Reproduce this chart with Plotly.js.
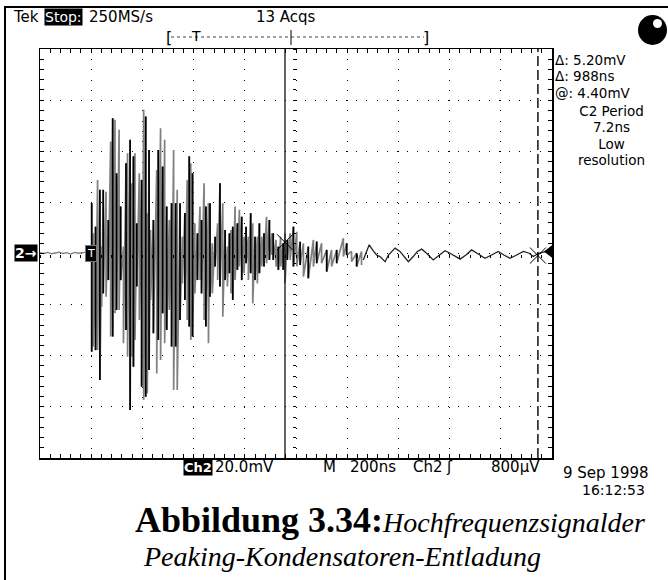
<!DOCTYPE html>
<html><head><meta charset="utf-8">
<script src="https://cdn.plot.ly/plotly-3.0.1.min.js"></script>
<style>html,body{margin:0;padding:0;background:#fff;}#chart{width:668px;height:580px;}</style>
</head><body><div id="chart"></div>
<script>
// ---- data (time in ns, voltage in mV) ----
const preT = [-200,-185,-170,-155,-140,-125,-110,-95,-80,-65,-50,-35,-20,-8,0];
const preV = [0.3,0.0,0.4,-0.1,0.2,0.5,0.0,0.3,-0.2,0.4,0.1,0.3,0.5,0.0,0.2];

const burstT = [2,8,17,25,34,41,47,58,67,76,84,93,99,109,115,126,136,142,152,158,165,171,178,188,197,205,213,219,226,232,243,256,262,271,279,287,295,305,314,322,330,336,347,356,366,375,383,389,396,405,415,425,431,441,448,458,464,473,484,494,503,514,523,532,540,546,553,562,571,579,588,597,605,614,623,631,640,649,657,666,675,685,696,705,711,722,731,740,750,757,766,777,790,803,816,829,848,868,881,900,920,939,959,985,998,1017,1037,1056];
const burstHi = [19.7,7.9,10.5,28.8,24.9,2.7,24.9,24.2,13.1,43.8,52.9,52.3,31.4,48.4,18.4,2.7,35.3,39.2,44.5,27.5,38.0,39.2,11.8,31.4,28.8,56.2,53.6,15.7,40.5,9.2,13.1,32.7,40.5,49.0,34.0,44.5,18.4,13.1,19.7,40.5,19.7,24.9,19.7,6.6,15.8,28.8,38.0,35.3,31.4,11.8,7.9,18.4,13.1,27.5,18.4,19.7,19.7,4.0,6.6,11.8,27.5,19.7,9.2,2.7,7.9,9.2,10.5,18.4,11.8,17.1,14.4,6.6,10.5,6.6,15.8,11.8,6.6,6.6,11.8,6.6,7.9,14.4,13.1,7.9,7.9,5.3,2.7,6.6,4.0,7.9,5.3,7.9,10.5,8.5,4.6,4.0,2.7,5.3,4.7,4.0,1.4,1.4,1.4,6.0,4.0,0.8,0.1,0.8];
const burstLo = [-38.4,-36.4,-37.8,-37.8,-49.5,-20.8,-15.6,-16.9,-10.4,-32.5,-32.5,-23.4,-22.1,-22.1,-10.4,-35.1,-29.9,-40.4,-61.2,-40.4,-44.3,-33.8,-12.9,-26.0,-52.1,-57.3,-56.0,-54.7,-45.6,-18.2,-31.2,-46.9,-33.8,-41.7,-23.4,-35.1,-29.9,-22.1,-36.4,-53.4,-36.4,-53.4,-26.0,-11.7,-18.2,-26.0,-28.6,-33.8,-32.5,-15.6,-10.4,-10.4,-15.6,-26.0,-28.6,-35.1,-16.9,-15.6,-5.1,-10.4,-12.9,-24.7,-10.4,-12.9,-7.7,-15.6,-18.2,-10.4,-6.4,-5.1,-10.4,-7.7,-3.8,-10.4,-7.7,-19.5,-10.4,-11.7,-7.7,-5.1,-5.1,-3.8,-2.5,-0.5,-2.5,-5.1,-6.4,-5.1,-6.4,-11.7,-2.5,-2.5,-5.1,-5.0,-4.5,-9.0,-9.7,-5.1,-3.8,-3.8,-7.1,-5.1,-3.8,-1.2,-0.6,-3.2,-5.1,-4.5];

const tailT = [1063,1073,1086,1099,1115,1128,1148,1161,1187,1206,1222,1239,1258,1274,1291,1310,1336,1360,1382,1402,1441,1464,1486,1512,1538,1564,1590,1612,1636,1662,1688,1711,1727,1747,1779,1800];
const tailV = [-2.5,0.1,3.4,1.4,-0.6,-1.2,-3.2,-0.6,2.1,0.8,-1.2,-3.2,-1.2,0.8,1.7,0.1,-2.5,-0.6,1.1,0.1,-2.2,-0.6,1.4,-0.2,-1.9,-0.6,0.8,-0.6,-1.9,-0.6,0.8,0.1,-1.2,0.1,0.8,0.3];

const cursorT = [757, 1745];
const cursorV = [4.4, -0.8];
const triggerLevel = 0.8;   // 800 µV
const triggerT = 0;

const readouts = ["Δ: 5.20mV", "Δ: 988ns", "@: 4.40mV"];
const measure = ["C2 Period", "7.2ns", "Low", "resolution"];

// ---- geometry helpers (plot area in pixels) ----
const L = 40, T = 49, W = 512, H = 409;
const fx = x => (x - L) / W;
const fy = y => (T + H - y) / H;

// ---- build traces ----
const zx = [], zy = [];
burstT.forEach((t, i) => { zx.push(t, t); zy.push(burstHi[i], burstLo[i]); });
const bx = [], by = [];
burstT.forEach((t, i) => { if (i % 2 === 0) { bx.push(t, t, null); by.push(burstHi[i], burstLo[i], null); } });

const traces = [
  {x: preT, y: preV, mode: 'lines', line: {color: '#808080', width: 1.3}, hoverinfo: 'skip'},
  {x: zx, y: zy, mode: 'lines', line: {color: '#808080', width: 1.7}, hoverinfo: 'skip'},
  {x: bx, y: by, mode: 'lines', line: {color: '#000', width: 1.7}, hoverinfo: 'skip'},
  {x: tailT, y: tailV, mode: 'lines', line: {color: '#222', width: 1.3}, hoverinfo: 'skip'},
  {x: cursorT, y: cursorV, mode: 'markers', marker: {symbol: 'x-thin-open', size: 16, color: '#000', line: {color: '#000', width: 1}}, hoverinfo: 'skip'},
  {x: [1790], y: [triggerLevel], mode: 'markers', marker: {symbol: 'triangle-left', size: 11, color: '#000'}, hoverinfo: 'skip'}
];

const dotGrid = '1px,9.24px';
const axisCommon = {
  showticklabels: false, zeroline: false, showgrid: true, gridcolor: '#000', gridwidth: 1,
  showline: true, linecolor: '#000', linewidth: 1.5, mirror: 'allticks',
  ticks: 'inside', ticklen: 4, tickcolor: '#000', tickwidth: 1, fixedrange: true
};

const font = 'DejaVu Sans, Verdana, sans-serif';
const ann = [];
function txt(text, x, y, size, opts) {
  ann.push(Object.assign({text: text, xref: 'paper', yref: 'paper', x: fx(x), y: fy(y),
    showarrow: false, xanchor: 'left', yanchor: 'middle', font: {family: font, size: size, color: '#000'}}, opts || {}));
}
const big = s => '<span style="font-size:13.5px">' + s + '</span>';
txt('Tek', 11, 17, 15);
txt('Stop:', 44, 17, 14, {bgcolor: '#000', font: {family: font, size: 14, color: '#fff'}, borderpad: 0});
txt('250MS/s', 87, 17, 15);
txt('13 Acqs', 254, 17, 15);
// readouts: 12.5px line pitch base, 13.5px glyphs
txt(readouts.map(big).join('<br>'), 553, 76, 12.5, {align: 'left'});
txt(measure.map(big).join('<br>'), 611, 135, 12.5, {xanchor: 'center', align: 'center'});
txt('2→', 14, 253, 14, {bgcolor: '#000', font: {family: font, size: 14, color: '#fff', weight: 'bold'}, borderpad: 0});
txt('Ch2', 183, 467, 13, {bgcolor: '#000', font: {family: font, size: 13, color: '#fff', weight: 'bold'}, borderpad: 0});
txt('20.0mV', 213, 467, 15);
txt('M', 321, 467, 15);
txt('200ns', 348, 467, 15);
txt('Ch2', 411, 467, 15);
txt('ʃ', 444, 467, 15);
txt('800µV', 489, 467, 15);
txt('9 Sep 1998', 561, 473, 15);
txt('16:12:53', 580, 490, 14);
ann.push({text: '<span style="font-size:36px"><b>Abbildung 3.34:</b></span><i>Hochfrequenzsignalder</i>',
  xref: 'paper', yref: 'paper', x: fx(133), y: fy(520), showarrow: false, xanchor: 'left', yanchor: 'middle',
  font: {family: 'Liberation Serif, Times New Roman, serif', size: 28, color: '#000'}});
ann.push({text: '<i>Peaking-Kondensatoren-Entladung</i>',
  xref: 'paper', yref: 'paper', x: fx(141), y: fy(556), showarrow: false, xanchor: 'left', yanchor: 'middle',
  font: {family: 'Liberation Serif, Times New Roman, serif', size: 28, color: '#000'}});
// trigger position marker on the waveform
ann.push({text: 'T', xref: 'x', yref: 'y', x: triggerT, y: 0, showarrow: false, bgcolor: '#000',
  bordercolor: '#777', borderwidth: 1, borderpad: 1, font: {family: font, size: 11, color: '#fff'}});
// record-bar marks
txt('[', 164, 38, 16);
txt(']', 421, 38, 16);
txt('T', 189, 36, 14);

const shapes = [
  // outer frame
  {type: 'rect', xref: 'paper', yref: 'paper', x0: fx(5), x1: fx(669), y0: fy(581), y1: fy(7), line: {color: '#000', width: 2}},
  // cursors
  {type: 'line', xref: 'x', yref: 'paper', x0: cursorT[0], x1: cursorT[0], y0: 0, y1: 1, line: {color: '#000', width: 1.2}},
  {type: 'line', xref: 'x', yref: 'paper', x0: cursorT[1], x1: cursorT[1], y0: 0, y1: 1, line: {color: '#000', width: 1.4, dash: '10px,4px'}},
  // record bar
  {type: 'line', xref: 'paper', yref: 'paper', x0: fx(171), x1: fx(424), y0: fy(37), y1: fy(37), line: {color: '#444', width: 1, dash: 'dot'}},
  {type: 'line', xref: 'paper', yref: 'paper', x0: fx(291), x1: fx(291), y0: fy(30), y1: fy(45), line: {color: '#000', width: 1}},
  // status bulb
  {type: 'circle', xref: 'paper', yref: 'paper', x0: fx(638), x1: fx(667), y0: fy(45), y1: fy(15), fillcolor: '#000', line: {color: '#000', width: 0}},
  {type: 'circle', xref: 'paper', yref: 'paper', x0: fx(653), x1: fx(662), y0: fy(28), y1: fy(19), fillcolor: '#fff', line: {color: '#fff', width: 0}}
];

const layout = {
  width: 668, height: 580, margin: {l: L, r: 668 - L - W, t: T, b: 580 - T - H},
  paper_bgcolor: '#fff', plot_bgcolor: '#fff', showlegend: false,
  xaxis: Object.assign({}, axisCommon, {range: [-200, 1800], tick0: -200, dtick: 200, griddash: dotGrid,
    minor: {dtick: 40, ticks: 'inside', ticklen: 3, tickcolor: '#000', showgrid: false}}),
  yaxis: Object.assign({}, axisCommon, {range: [-80, 80], tick0: -80, dtick: 20, griddash: '1px,9.2px',
    minor: {dtick: 4, ticks: 'inside', ticklen: 3, tickcolor: '#000', showgrid: false}}),
  xaxis2: {overlaying: 'x', anchor: 'free', position: 0.5, range: [-200, 1800], tick0: -200, dtick: 40,
    ticks: 'outside', ticklen: 3, tickcolor: '#000', showticklabels: false, showgrid: false, zeroline: false, showline: false, fixedrange: true},
  yaxis2: {overlaying: 'y', anchor: 'free', position: 0.5, range: [-80, 80], tick0: -80, dtick: 4,
    ticks: 'outside', ticklen: 3, tickcolor: '#000', showticklabels: false, showgrid: false, zeroline: false, showline: false, fixedrange: true},
  annotations: ann, shapes: shapes
};
// attach helper traces to the centre axes so they are drawn
traces.push({x: [triggerT], y: [0], xaxis: 'x2', yaxis: 'y', mode: 'markers', marker: {size: 0.1, opacity: 0}, hoverinfo: 'skip'});
traces.push({x: [triggerT], y: [0], xaxis: 'x', yaxis: 'y2', mode: 'markers', marker: {size: 0.1, opacity: 0}, hoverinfo: 'skip'});

Plotly.newPlot('chart', traces, layout, {staticPlot: true, displayModeBar: false});
</script></body></html>
